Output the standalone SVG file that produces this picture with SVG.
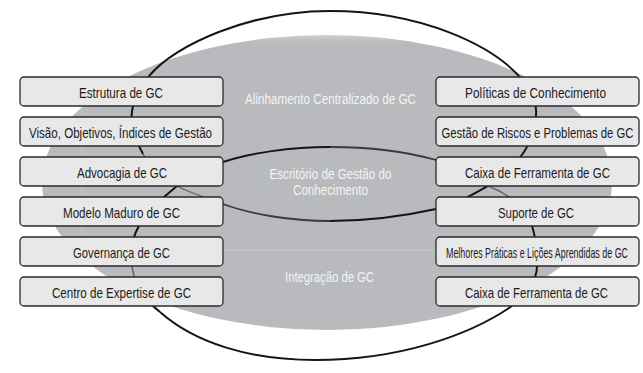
<svg xmlns="http://www.w3.org/2000/svg" width="643" height="373" viewBox="0 0 643 373">
<defs>
<linearGradient id="g" gradientUnits="userSpaceOnUse" x1="0" y1="33" x2="0" y2="42">
<stop offset="0" stop-color="#d6d6d6"/>
<stop offset="1" stop-color="#b9babd"/>
</linearGradient>
</defs>
<style>
.box{fill:#e8e8e9;stroke:#2a2a2a;stroke-width:1.3}
.bt{font-family:"Liberation Sans",Arial,sans-serif;font-size:14.5px;fill:#1c1c1c;text-anchor:middle}
.wt{font-family:"Liberation Sans",Arial,sans-serif;font-size:14px;fill:#f4f4f4;text-anchor:middle}
.dk{fill:none;stroke:#151515;stroke-width:2}
.md{fill:none;stroke:#3a3a3a;stroke-width:1.8}
.lt{fill:none;stroke:#5e5e5e;stroke-width:1.4}
.fl{fill:none;stroke:#c6c7c9;stroke-width:1}
</style>
<rect width="643" height="373" fill="#ffffff"/>
<ellipse id="disk" cx="327" cy="182.5" rx="285" ry="147.5" fill="url(#g)"/>
<g id="faint">
<line class="fl" x1="223" y1="250" x2="436" y2="250"/>
<line class="fl" x1="82" y1="100" x2="82" y2="240"/>
</g>
<g id="connectors">
<path class="dk" d="M150,75 C175,45 250,11 330,11 C420,11 495,45 524,82"/>
<path class="dk" d="M524,82 C533,92 537,103 536,115 C535,128 532,140 524,152 C515,166 502,178 488,186"/>
<path class="dk" d="M488,186 C474,194 455,205 436,209 C400,217 365,221 330,221"/>
<path class="md" d="M330,221 C290,221 250,214 223,204"/>
<path class="lt" d="M223,204 C210,199 190,193 177,186 C164,179 150,166 143,154"/>
<path class="dk" d="M143,154 C136,142 130,125 132,111 C134,97 140,86 150,75"/>
<path class="dk" d="M160,312 C195,343 250,360 315,360 C400,360 470,335 512,306"/>
<path class="dk" d="M512,306 C528,292 537,280 537,266 C537,250 536,238 532,226"/>
<path class="lt" d="M532,226 C528,210 510,194 488,186 C470,180 454,165 436,160"/>
<path class="md" d="M436,160 C400,150 365,147 330,147"/>
<path class="dk" d="M330,147 C290,147 250,153 223,162 C205,168 190,177 177,186 C164,197 140,215 133,240"/>
<path class="lt" d="M133,240 C130,252 131,268 136,282"/>
<path class="dk" d="M136,282 C140,294 148,302 160,312"/>
</g>
<g id="regions">
<text class="wt" x="330.5" y="104" textLength="171" lengthAdjust="spacingAndGlyphs">Alinhamento Centralizado de GC</text>
<text class="wt" x="330.5" y="179" textLength="122" lengthAdjust="spacingAndGlyphs">Escritório de Gestão do</text>
<text class="wt" x="330.5" y="195" textLength="75" lengthAdjust="spacingAndGlyphs">Conhecimento</text>
<text class="wt" x="329.5" y="281.5" textLength="89" lengthAdjust="spacingAndGlyphs">Integração de GC</text>
</g>
<g id="n-l1"><rect class="box" x="20" y="77" width="203" height="29" rx="4"/><text class="bt" x="121" y="98" textLength="84" lengthAdjust="spacingAndGlyphs">Estrutura de GC</text></g>
<g id="n-l2"><rect class="box" x="20" y="117" width="203" height="29" rx="4"/><text class="bt" x="120.5" y="138" textLength="183" lengthAdjust="spacingAndGlyphs">Visão, Objetivos, Índices de Gestão</text></g>
<g id="n-l3"><rect class="box" x="20" y="157" width="203" height="29" rx="4"/><text class="bt" x="122" y="178" textLength="90" lengthAdjust="spacingAndGlyphs">Advocagia de GC</text></g>
<g id="n-l4"><rect class="box" x="20" y="197" width="203" height="29" rx="4"/><text class="bt" x="121.5" y="218" textLength="117" lengthAdjust="spacingAndGlyphs">Modelo Maduro de GC</text></g>
<g id="n-l5"><rect class="box" x="20" y="237" width="203" height="29" rx="4"/><text class="bt" x="121.5" y="258" textLength="97" lengthAdjust="spacingAndGlyphs">Governança de GC</text></g>
<g id="n-l6"><rect class="box" x="20" y="277" width="203" height="29" rx="4"/><text class="bt" x="121.5" y="298" textLength="139" lengthAdjust="spacingAndGlyphs">Centro de Expertise de GC</text></g>
<g id="n-r1"><rect class="box" x="436" y="77" width="203" height="29" rx="4"/><text class="bt" x="535.5" y="98" textLength="141" lengthAdjust="spacingAndGlyphs">Políticas de Conhecimento</text></g>
<g id="n-r2"><rect class="box" x="436" y="117" width="203" height="29" rx="4"/><text class="bt" x="537.5" y="138" textLength="192" lengthAdjust="spacingAndGlyphs">Gestão de Riscos e Problemas de GC</text></g>
<g id="n-r3"><rect class="box" x="436" y="157" width="203" height="29" rx="4"/><text class="bt" x="537.5" y="178" textLength="145" lengthAdjust="spacingAndGlyphs">Caixa de Ferramenta de GC</text></g>
<g id="n-r4"><rect class="box" x="436" y="197" width="203" height="29" rx="4"/><text class="bt" x="536" y="218" textLength="76" lengthAdjust="spacingAndGlyphs">Suporte de GC</text></g>
<g id="n-r5"><rect class="box" x="436" y="237" width="203" height="29" rx="4"/><text class="bt" x="537" y="258" textLength="182" lengthAdjust="spacingAndGlyphs">Melhores Práticas e Lições Aprendidas de GC</text></g>
<g id="n-r6"><rect class="box" x="436" y="277" width="203" height="29" rx="4"/><text class="bt" x="536.5" y="298" textLength="143" lengthAdjust="spacingAndGlyphs">Caixa de Ferramenta de GC</text></g>
</svg>
